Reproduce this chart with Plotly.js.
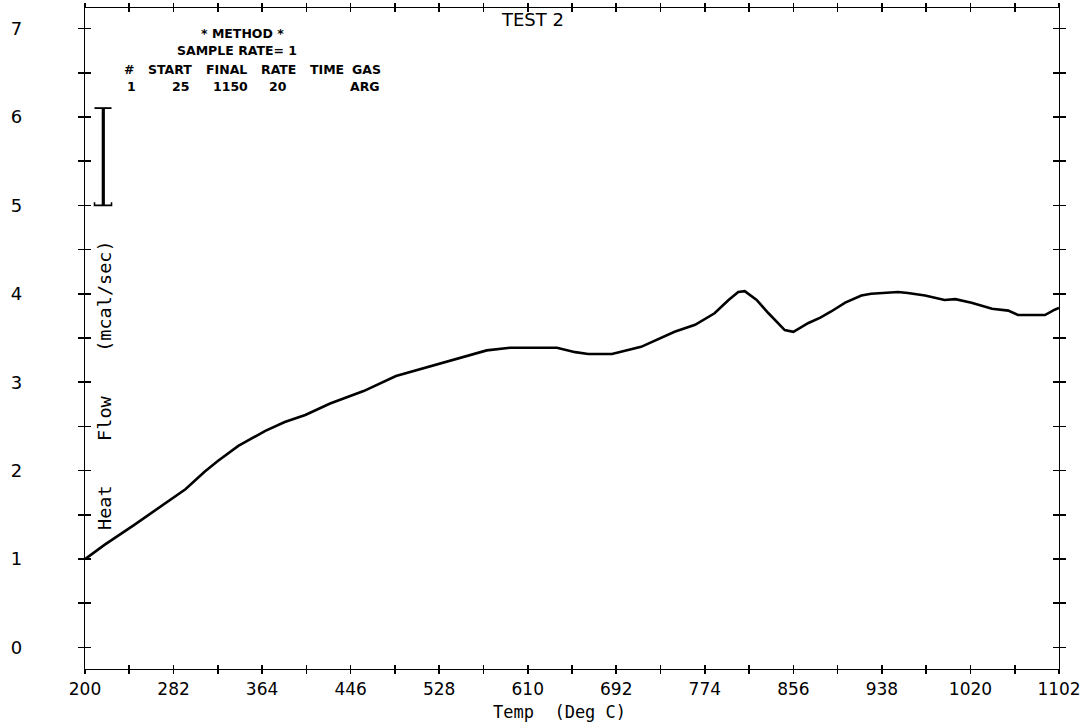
<!DOCTYPE html>
<html>
<head>
<meta charset="utf-8">
<script src="https://cdn.plot.ly/plotly-3.0.1.min.js"></script>
<style>
  html, body { margin: 0; padding: 0; background: #fff; }
  #chart { width: 1091px; height: 723px; }
</style>
</head>
<body>
<div id="chart"></div>
<script>
// ---- data ----
const temps = [200, 218, 246, 277, 293, 311, 323, 342, 367, 385, 404, 427, 458, 488, 520, 544, 572, 594, 637, 654,
               666, 688, 715, 746, 765, 783, 796, 805, 811, 822, 833, 848, 856, 870, 881,
               891, 904, 919, 928, 953, 962, 978, 996, 1006, 1021, 1040, 1055, 1064, 1089, 1098, 1102];
const heatFlow = [1.00, 1.16, 1.39, 1.66, 1.79, 1.99, 2.11, 2.28, 2.45, 2.55, 2.63, 2.76, 2.90, 3.07, 3.18, 3.26, 3.36, 3.39, 3.39, 3.34,
                  3.32, 3.32, 3.40, 3.57, 3.65, 3.78, 3.93, 4.02, 4.03, 3.93, 3.78, 3.59, 3.57, 3.67, 3.73,
                  3.80, 3.90, 3.98, 4.00, 4.02, 4.01, 3.98, 3.93, 3.94, 3.90, 3.83, 3.81, 3.76, 3.76, 3.82, 3.84];

const xTickVals = [200, 241, 282, 323, 364, 405, 446, 487, 528, 569, 610, 651, 692, 733, 774, 815, 856, 897, 938, 979, 1020, 1061, 1102];
const xTickText = ['200', '', '282', '', '364', '', '446', '', '528', '', '610', '', '692', '', '774', '', '856', '', '938', '', '1020', '', '1102'];
const yTickVals = [0, 0.5, 1, 1.5, 2, 2.5, 3, 3.5, 4, 4.5, 5, 5.5, 6, 6.5, 7];
const yTickText = ['0', '', '1', '', '2', '', '3', '', '4', '', '5', '', '6', '', '7'];

const chartTitle = 'TEST 2';
const xTitle = 'Temp\u00A0\u00A0(Deg C)';
const yTitle = 'Heat\u00A0\u00A0\u00A0\u00A0Flow\u00A0\u00A0\u00A0\u00A0(mcal/sec)';
const methodLines = ['* METHOD *', 'SAMPLE RATE= 1'];
const methodHeader = ['#', 'START', 'FINAL', 'RATE', 'TIME', 'GAS'];
const methodRow = ['1', '25', '1150', '20', 'ARG'];
const scaleBar = [5.0, 6.1];

// ---- geometry ----
const W = 1091, H = 723;
const L = 85, R = 32, T = 8, B = 54;
const PW = W - L - R, PH = H - T - B;
const xRange = [200, 1102];
const yRange = [-0.243, 7.232];
const px = (p) => (p - L) / PW;
const py = (p) => (H - B - p) / PH;
const pxData = (p) => xRange[0] + (p - L) / PW * (xRange[1] - xRange[0]);

const axisFont = { family: 'DejaVu Sans', size: 17, color: '#000' };
const smallFont = { family: 'DejaVu Sans', size: 12.5, color: '#000', weight: 'bold' };

const traces = [
  { x: temps, y: heatFlow, type: 'scatter', mode: 'lines',
    line: { color: '#000', width: 2.6 }, hoverinfo: 'skip', showlegend: false },
  { x: temps, y: heatFlow, type: 'scatter', mode: 'lines', xaxis: 'x2', yaxis: 'y2',
    line: { color: 'rgba(0,0,0,0)', width: 0 }, hoverinfo: 'skip', showlegend: false }
];

const annotations = [];
annotations.push({ text: chartTitle, xref: 'paper', yref: 'paper', x: px(532), y: py(20),
  xanchor: 'center', yanchor: 'middle', showarrow: false, font: { family: 'DejaVu Sans', size: 18, color: '#000' } });
annotations.push({ text: xTitle, xref: 'paper', yref: 'paper', x: px(559), y: py(712),
  xanchor: 'center', yanchor: 'middle', showarrow: false, font: { family: 'DejaVu Sans Mono', size: 17, color: '#000' } });
annotations.push({ text: yTitle, xref: 'paper', yref: 'paper', x: px(104), y: py(385), textangle: -90,
  xanchor: 'center', yanchor: 'middle', showarrow: false, font: { family: 'DejaVu Sans Mono', size: 18.5, color: '#000' } });
annotations.push({ text: methodLines[0], xref: 'paper', yref: 'paper', x: px(242), y: py(33),
  xanchor: 'center', yanchor: 'middle', showarrow: false, font: smallFont });
annotations.push({ text: methodLines[1], xref: 'paper', yref: 'paper', x: px(237), y: py(51),
  xanchor: 'center', yanchor: 'middle', showarrow: false, font: smallFont });
const headerX = [128.5, 169.5, 226.5, 278, 327, 366];
methodHeader.forEach((t, i) => annotations.push({ text: t, xref: 'paper', yref: 'paper', x: px(headerX[i]), y: py(69),
  xanchor: 'center', yanchor: 'middle', showarrow: false, font: smallFont }));
const rowX = [131.5, 180, 230, 278, 365];
methodRow.forEach((t, i) => annotations.push({ text: t, xref: 'paper', yref: 'paper', x: px(rowX[i]), y: py(87),
  xanchor: 'center', yanchor: 'middle', showarrow: false, font: smallFont }));

// scale bar (I-beam) near left axis
const sbL = pxData(94.5), sbR = pxData(111.5), sbC = pxData(103.3);
const shapes = [
  { type: 'line', xref: 'x', yref: 'y', x0: sbC, x1: sbC, y0: scaleBar[0], y1: scaleBar[1], line: { color: '#000', width: 3.2 } },
  { type: 'line', xref: 'x', yref: 'y', x0: sbL, x1: sbR, y0: scaleBar[1], y1: scaleBar[1], line: { color: '#000', width: 1.8 } },
  { type: 'path', xref: 'x', yref: 'y',
    path: `M ${sbL} ${scaleBar[0] + 0.035} L ${sbL} ${scaleBar[0]} L ${sbR} ${scaleBar[0]} L ${sbR} ${scaleBar[0] + 0.035}`,
    line: { color: '#000', width: 1.6 } }
];

const layout = {
  width: W, height: H,
  margin: { l: L, r: R, t: T, b: B, pad: 0 },
  paper_bgcolor: '#fff', plot_bgcolor: '#fff',
  showlegend: false,
  xaxis: { range: xRange, tickmode: 'array', tickvals: xTickVals, ticktext: xTickText,
    ticks: 'outside', ticklen: 4, tickwidth: 1.6, tickcolor: '#000',
    showline: true, linecolor: '#000', linewidth: 1.3, mirror: 'ticks',
    showgrid: false, zeroline: false, tickfont: axisFont, ticklabelstandoff: 0, fixedrange: true },
  yaxis: { range: yRange, tickmode: 'array', tickvals: yTickVals, ticktext: yTickText,
    ticks: 'outside', ticklen: 6, tickwidth: 1.6, tickcolor: '#000',
    showline: true, linecolor: '#000', linewidth: 1.3, mirror: 'ticks',
    showgrid: false, zeroline: false, tickfont: { family: 'DejaVu Sans', size: 18, color: '#000' }, ticklabelstandoff: 52, fixedrange: true },
  xaxis2: { range: xRange, overlaying: 'x', anchor: 'y2', side: 'bottom', tickmode: 'array', tickvals: xTickVals,
    ticks: 'inside', ticklen: 4, tickwidth: 1.6, tickcolor: '#000', showticklabels: false,
    showline: true, linecolor: '#000', linewidth: 1.3, mirror: 'ticks', showgrid: false, zeroline: false, fixedrange: true },
  yaxis2: { range: yRange, overlaying: 'y', anchor: 'x2', side: 'left', tickmode: 'array', tickvals: yTickVals,
    ticks: 'inside', ticklen: 6, tickwidth: 1.6, tickcolor: '#000', showticklabels: false,
    showline: true, linecolor: '#000', linewidth: 1.3, mirror: 'ticks', showgrid: false, zeroline: false, fixedrange: true },
  annotations: annotations,
  shapes: shapes
};

Plotly.newPlot('chart', traces, layout, { displayModeBar: false, staticPlot: true });
</script>
</body>
</html>
